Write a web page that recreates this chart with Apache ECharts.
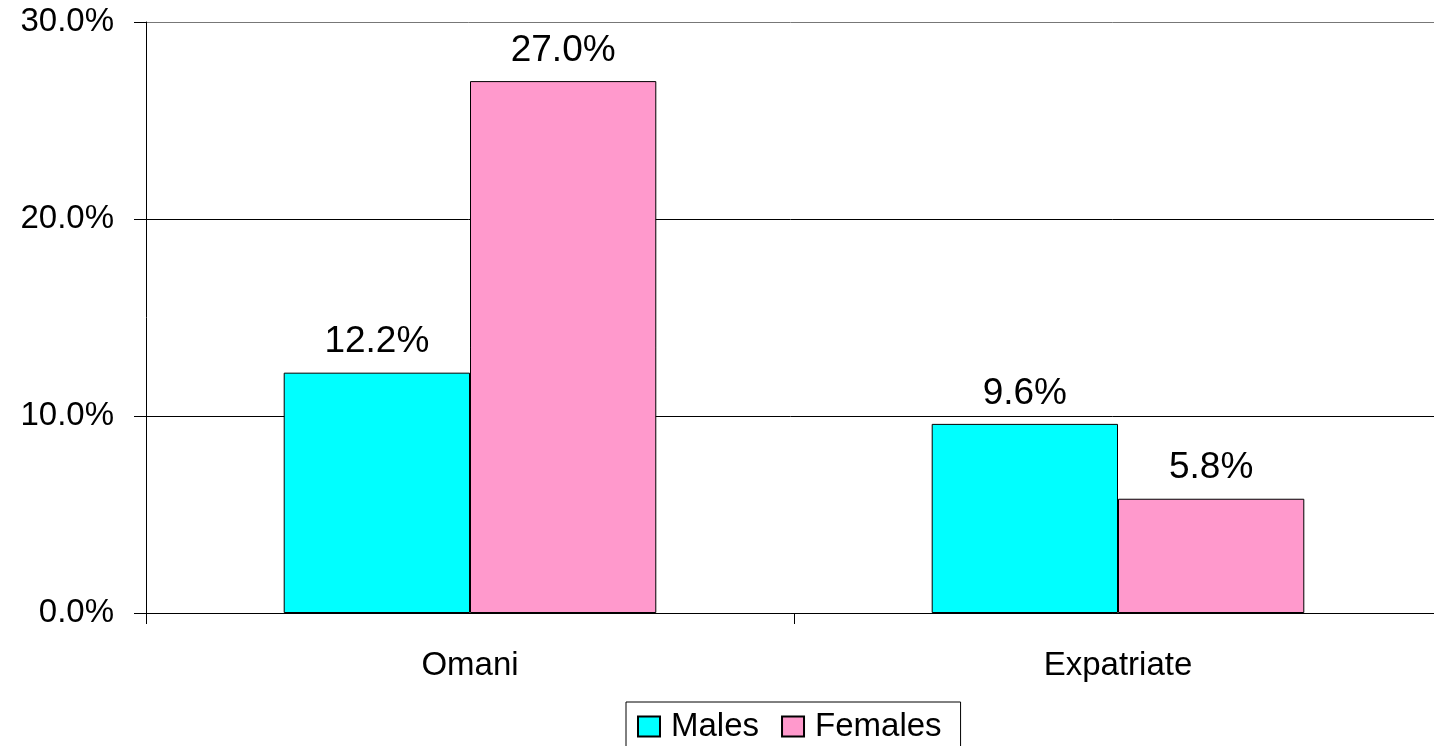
<!DOCTYPE html>
<html>
<head>
<meta charset="utf-8">
<script src="https://cdn.jsdelivr.net/npm/echarts@6/dist/echarts.min.js"></script>
<style>html,body{margin:0;padding:0;background:#fff}#c{width:1434px;height:746px}</style>
</head>
<body>
<div id="c"></div>
<script>
const categories = ['Omani', 'Expatriate'];
const males = [12.2, 9.6];
const females = [27.0, 5.8];
const yTicks = [0, 10, 20, 30];

const font = '"Liberation Sans", Arial, sans-serif';
const chart = echarts.init(document.getElementById('c'));
const pct = v => v.toFixed(1) + '%';
chart.setOption({
  animation: false,
  backgroundColor: '#fff',
  grid: { left: 146, right: -8, top: 22, bottom: 133, containLabel: false, outerBoundsMode: 'none' },
  legend: {
    data: ['Males', 'Females'],
    left: 626, top: 702,
    orient: 'horizontal',
    borderColor: '#000', borderWidth: 1,
    padding: [8, 19, 20, 11],
    itemWidth: 22, itemHeight: 20, itemGap: 22,
    icon: 'rect',
    textStyle: { fontFamily: font, fontSize: 33, color: '#000', padding: [0, 0, 0, 6] }
  },
  xAxis: {
    type: 'category', data: categories,
    axisLine: { lineStyle: { color: '#000', width: 1 } },
    axisTick: { show: true, length: 11, lineStyle: { color: '#000' } },
    axisLabel: { fontFamily: font, fontSize: 33, color: '#000', margin: 36 }
  },
  yAxis: {
    type: 'value', min: yTicks[0], max: yTicks[yTicks.length - 1], interval: 10,
    axisLine: { show: true, lineStyle: { color: '#000', width: 1 } },
    axisTick: { show: true, length: 12, lineStyle: { color: '#000' } },
    axisLabel: { fontFamily: font, fontSize: 33, color: '#000', margin: 32, formatter: v => pct(v) },
    splitLine: { show: true, lineStyle: { color: ['#000', '#000', '#000', '#777'], width: 1 } }
  },
  series: [
    {
      name: 'Males', type: 'bar', data: males,
      barGap: '0%', barCategoryGap: '42.5%',
      itemStyle: { color: '#00FFFF', borderColor: '#000', borderWidth: 1 },
      label: { show: true, position: 'top', distance: 12, fontFamily: font, fontSize: 37, color: '#000', formatter: p => pct(p.value) }
    },
    {
      name: 'Females', type: 'bar', data: females,
      barGap: '0%', barCategoryGap: '42.5%',
      itemStyle: { color: '#FF99CC', borderColor: '#000', borderWidth: 1 },
      label: { show: true, position: 'top', distance: 12, fontFamily: font, fontSize: 37, color: '#000', formatter: p => pct(p.value) }
    }
  ]
});
</script>
</body>
</html>
